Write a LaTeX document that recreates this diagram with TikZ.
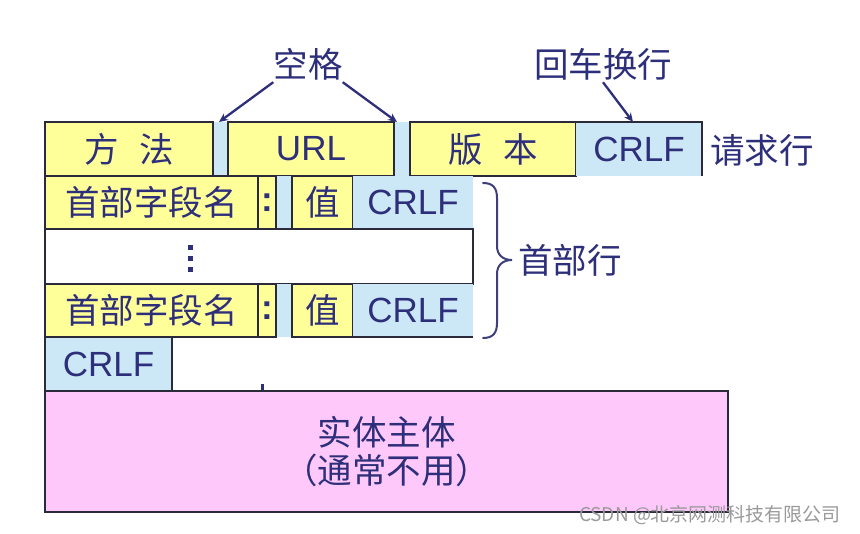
\documentclass[tikz,border=0pt]{standalone}
\usepackage{fontspec}
\setmainfont{Liberation Sans}
\newfontfamily\cjk{Noto Sans CJK SC}
\usetikzlibrary{arrows.meta}
\definecolor{ink}{HTML}{2E2F7A}
\definecolor{yel}{HTML}{FFFF99}
\definecolor{blu}{HTML}{CCE8F6}
\definecolor{pnk}{HTML}{FFC8FA}
\definecolor{edge}{HTML}{2A2A3A}
\definecolor{wm}{HTML}{9A9A9A}
\tikzset{
  cell/.style={anchor=north west, inner sep=0pt, outer sep=0pt, line width=1.3pt, text=ink},
  ycell/.style={cell, fill=yel, draw=edge},
  bcell/.style={cell, fill=blu},
  cjkfont/.style={font=\fontsize{34.5}{38}\selectfont\cjk},
  latfont/.style={font=\fontsize{35}{38}\selectfont},
  lbl/.style={text=ink, inner sep=2pt},
  arr/.style={-{Stealth[length=9pt,width=8pt]}, line width=2.3pt, draw=ink},
  gap/.style={fill=blu},
}
\begin{document}
\begin{tikzpicture}[x=1pt,y=-1pt]
\useasboundingbox[fill=white] (0,0) rectangle (860,534);

% ---------- request line ----------
\fill[gap] (213,122) rectangle (228,176);
\fill[gap] (394,122) rectangle (410,176);
\node[ycell, cjkfont, minimum width=168, minimum height=54] (fa) at (45,122) {方\hspace{0.6em}法};
\node[ycell, latfont, minimum width=166, minimum height=54] (url) at (228,122) {URL};
\node[ycell, cjkfont, minimum width=166, minimum height=54] (ver) at (410,122) {版\hspace{0.6em}本};
\node[bcell, latfont, minimum width=126, minimum height=54] (crlf0) at (576,122) {CRLF};
\draw[line width=1.3pt, draw=edge] (crlf0.north west) -- (crlf0.north east) -- (crlf0.south east);
\node[lbl, cjkfont] (req) at (762,150) {请求行};

% ---------- header line 1 ----------
\fill[gap] (276,176) rectangle (292,229);
\node[ycell, cjkfont, minimum width=213, minimum height=53] (h1n) at (45,176) {首部字段名\hspace{6pt}};
\node[ycell, latfont, minimum width=18, minimum height=53] (h1c) at (258,176) {\textbf{:}};
\node[ycell, cjkfont, minimum width=61, minimum height=53] (h1v) at (292,176) {值};
\node[bcell, latfont, minimum width=120, minimum height=53] (h1r) at (353,176) {CRLF};

% ---------- dots row ----------
\node[cell, draw=edge, fill=white, minimum width=428, minimum height=55] (dots) at (45,229) {};
\fill[ink] (188,245) rectangle +(5,5);
\fill[ink] (188,256) rectangle +(5,5);
\fill[ink] (188,267) rectangle +(5,5);

% ---------- header line 2 ----------
\fill[gap] (276,284) rectangle (292,337);
\node[ycell, cjkfont, minimum width=213, minimum height=53] (h2n) at (45,284) {首部字段名\hspace{6pt}};
\node[ycell, latfont, minimum width=18, minimum height=53] (h2c) at (258,284) {\textbf{:}};
\node[ycell, cjkfont, minimum width=61, minimum height=53] (h2v) at (292,284) {值};
\node[bcell, latfont, minimum width=120, minimum height=53] (h2r) at (353,284) {CRLF};
\draw[line width=1.3pt, draw=edge] (h2r.south west) -- (h2r.south east);

% ---------- empty line ----------
\node[bcell, draw=edge, latfont, minimum width=127, minimum height=54] (crlf3) at (45,337) {CRLF\hspace{8pt}};

% ---------- body ----------
\draw[line width=3pt, draw=ink] (262,384) -- (262,391);
\node[cell, fill=pnk, draw=edge, cjkfont, align=center, minimum width=683, minimum height=121] (body) at (45,391) {实体主体\\（通常不用）\hspace{6pt}};

% ---------- labels and arrows ----------
\node[lbl, cjkfont] (kg) at (308,64) {空格};
\coordinate (g1) at (219,122);
\coordinate (g2) at (397,122);
\draw[arr] ([xshift=2pt]kg.south west) -- (g1);
\draw[arr] ([xshift=-2pt]kg.south east) -- (g2);

\node[lbl, cjkfont] (hc) at (603,64) {回车换行};
\coordinate (g3) at (633,122);
\draw[arr] (hc.south) -- (g3);

% brace
\draw[line width=2pt, draw=ink!80!gray, line cap=round]
  (483,183) .. controls (493,183) and (497,188) .. (497,198) -- (497,246)
  .. controls (497,255) and (503,260) .. (512,260)
  .. controls (503,260) and (497,265) .. (497,274) -- (497,323)
  .. controls (497,333) and (493,338) .. (483,338);
\node[lbl, cjkfont] (hdr) at (570,260) {首部行};

% watermark
\node[text=wm, font=\fontsize{19}{22}\selectfont\cjk, inner sep=0pt] (wmark) at (710,515) {CSDN @北京网测科技有限公司};
\end{tikzpicture}
\end{document}
